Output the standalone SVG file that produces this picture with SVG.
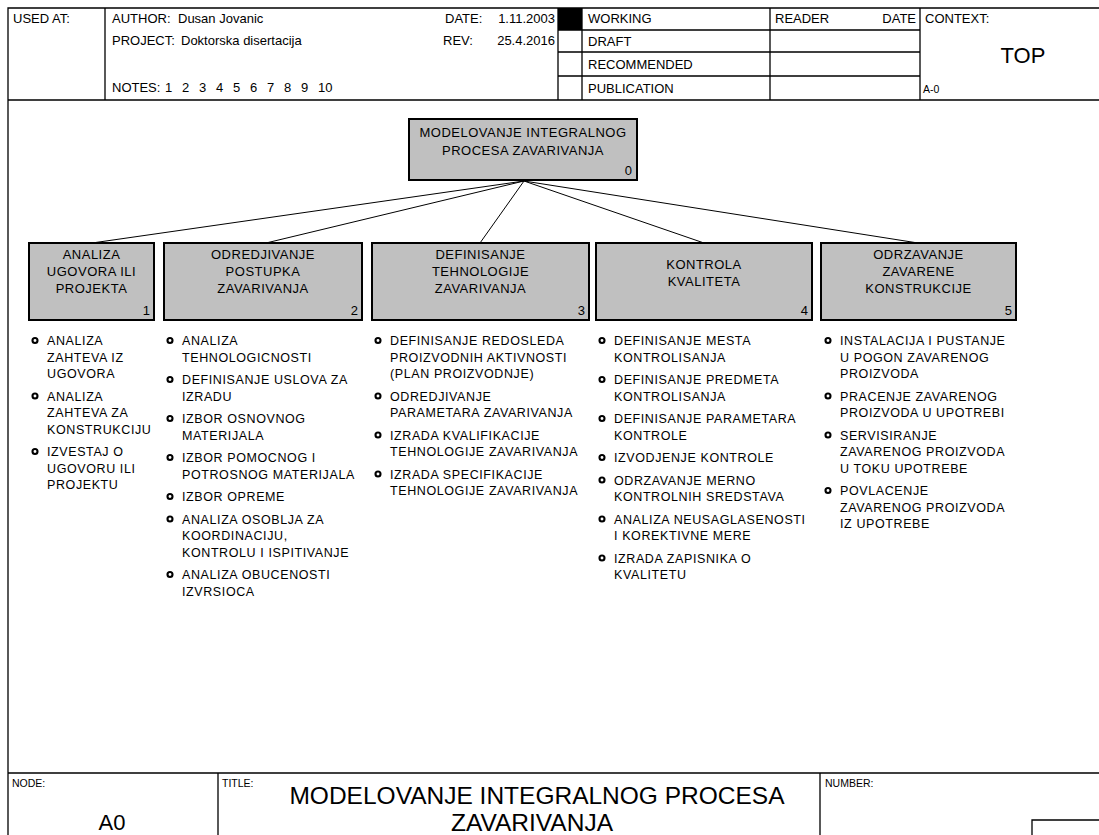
<svg xmlns="http://www.w3.org/2000/svg" width="1099" height="835" viewBox="0 0 1099 835">
<style>
text{font-family:"Liberation Sans",Arial,sans-serif;fill:#000}
.h{font-size:13px}
.nt{font-size:13px;letter-spacing:0.5px;text-anchor:middle}
.num{font-size:13px;text-anchor:end}
.bt{font-size:12.5px;letter-spacing:0.6px}
.fr{stroke:#000;stroke-width:1.3;fill:none}
.box{fill:#c0c0c0;stroke:#000;stroke-width:2}
.b{fill:#fff;stroke:#000;stroke-width:2.1}
.cn{stroke:#000;stroke-width:1;fill:none}
.sm{font-size:10.5px}
</style>
<rect width="1099" height="835" fill="#fff"/>
<g id="frame">
<path class="fr" d="M8 835V8H1099M8 100H1099M105 8V100M558 8V100M582 8V100M770 8V100M920 8V100M558 30H920M558 52H920M558 76H920M8 773H1099M218 773V835M820 773V835M1032 835V820H1099"/>
<rect x="558" y="8" width="24" height="22" fill="#000"/>
<text class="h" x="13" y="23">USED AT:</text>
<text class="h" x="112" y="23">AUTHOR:</text>
<text class="h" x="178" y="23">Dusan Jovanic</text>
<text class="h" x="112" y="45">PROJECT:</text>
<text class="h" x="181" y="45">Doktorska disertacija</text>
<text class="h" x="112" y="92">NOTES:<tspan x="165">1</tspan><tspan x="182">2</tspan><tspan x="199">3</tspan><tspan x="216">4</tspan><tspan x="233">5</tspan><tspan x="250">6</tspan><tspan x="267">7</tspan><tspan x="284">8</tspan><tspan x="301">9</tspan><tspan x="318">10</tspan></text>
<text class="h" x="445" y="23">DATE:</text>
<text class="h" x="555" y="23" text-anchor="end">1.11.2003</text>
<text class="h" x="443" y="45">REV:</text>
<text class="h" x="555" y="45" text-anchor="end">25.4.2016</text>
<text class="h" x="588" y="23">WORKING</text>
<text class="h" x="588" y="46">DRAFT</text>
<text class="h" x="588" y="69">RECOMMENDED</text>
<text class="h" x="588" y="93">PUBLICATION</text>
<text class="h" x="775" y="23">READER</text>
<text class="h" x="916" y="23" text-anchor="end">DATE</text>
<text class="h" x="925" y="23">CONTEXT:</text>
<text x="1023" y="63" font-size="22" text-anchor="middle">TOP</text>
<text class="sm" x="923" y="93">A-0</text>
<text class="sm" x="12" y="787">NODE:</text>
<text class="sm" x="222" y="787">TITLE:</text>
<text class="sm" x="825" y="787">NUMBER:</text>
<text x="112" y="830" font-size="22" text-anchor="middle">A0</text>
<text x="537" y="804" font-size="24.5" text-anchor="middle">MODELOVANJE INTEGRALNOG PROCESA</text>
<text x="532" y="831" font-size="24.5" text-anchor="middle">ZAVARIVANJA</text>
</g>
<g id="connectors">
<path class="cn" d="M524 181L92 243M524 181L266 243M524 181L480 243M524 181L704 243M524 181L918 243"/>
</g>
<g id="node0">
<rect class="box" x="409" y="119" width="228" height="61"/>
<text class="nt" x="523" y="137">MODELOVANJE INTEGRALNOG</text>
<text class="nt" x="523" y="155">PROCESA ZAVARIVANJA</text>
<text class="num" x="632" y="175">0</text>
</g>
<g id="node1">
<rect class="box" x="29" y="243" width="125" height="77"/>
<text class="nt" x="91.5" y="259">ANALIZA</text>
<text class="nt" x="91.5" y="276">UGOVORA ILI</text>
<text class="nt" x="91.5" y="293">PROJEKTA</text>
<text class="num" x="150" y="315">1</text>
<circle class="b" cx="35" cy="340.5" r="2.5"/>
<circle class="b" cx="35" cy="396" r="2.5"/>
<circle class="b" cx="35" cy="451.5" r="2.5"/>
<text class="bt" x="47" y="345">ANALIZA<tspan x="47" dy="16.5">ZAHTEVA IZ</tspan><tspan x="47" dy="16.5">UGOVORA</tspan></text>
<text class="bt" x="47" y="400.5">ANALIZA<tspan x="47" dy="16.5">ZAHTEVA ZA</tspan><tspan x="47" dy="16.5">KONSTRUKCIJU</tspan></text>
<text class="bt" x="47" y="456">IZVESTAJ O<tspan x="47" dy="16.5">UGOVORU ILI</tspan><tspan x="47" dy="16.5">PROJEKTU</tspan></text>
</g>
<g id="node2">
<rect class="box" x="164" y="243" width="198" height="77"/>
<text class="nt" x="263" y="259">ODREDJIVANJE</text>
<text class="nt" x="263" y="276">POSTUPKA</text>
<text class="nt" x="263" y="293">ZAVARIVANJA</text>
<text class="num" x="358" y="315">2</text>
<circle class="b" cx="170" cy="340.5" r="2.5"/>
<circle class="b" cx="170" cy="379.5" r="2.5"/>
<circle class="b" cx="170" cy="418.5" r="2.5"/>
<circle class="b" cx="170" cy="457.5" r="2.5"/>
<circle class="b" cx="170" cy="496.5" r="2.5"/>
<circle class="b" cx="170" cy="519" r="2.5"/>
<circle class="b" cx="170" cy="574.5" r="2.5"/>
<text class="bt" x="182" y="345">ANALIZA<tspan x="182" dy="16.5">TEHNOLOGICNOSTI</tspan></text>
<text class="bt" x="182" y="384">DEFINISANJE USLOVA ZA<tspan x="182" dy="16.5">IZRADU</tspan></text>
<text class="bt" x="182" y="423">IZBOR OSNOVNOG<tspan x="182" dy="16.5">MATERIJALA</tspan></text>
<text class="bt" x="182" y="462">IZBOR POMOCNOG I<tspan x="182" dy="16.5">POTROSNOG MATERIJALA</tspan></text>
<text class="bt" x="182" y="501">IZBOR OPREME</text>
<text class="bt" x="182" y="523.5">ANALIZA OSOBLJA ZA<tspan x="182" dy="16.5">KOORDINACIJU,</tspan><tspan x="182" dy="16.5">KONTROLU I ISPITIVANJE</tspan></text>
<text class="bt" x="182" y="579">ANALIZA OBUCENOSTI<tspan x="182" dy="16.5">IZVRSIOCA</tspan></text>
</g>
<g id="node3">
<rect class="box" x="372" y="243" width="217" height="77"/>
<text class="nt" x="480.5" y="259">DEFINISANJE</text>
<text class="nt" x="480.5" y="276">TEHNOLOGIJE</text>
<text class="nt" x="480.5" y="293">ZAVARIVANJA</text>
<text class="num" x="585" y="315">3</text>
<circle class="b" cx="378" cy="340.5" r="2.5"/>
<circle class="b" cx="378" cy="396" r="2.5"/>
<circle class="b" cx="378" cy="435" r="2.5"/>
<circle class="b" cx="378" cy="474" r="2.5"/>
<text class="bt" x="390" y="345">DEFINISANJE REDOSLEDA<tspan x="390" dy="16.5">PROIZVODNIH AKTIVNOSTI</tspan><tspan x="390" dy="16.5">(PLAN PROIZVODNJE)</tspan></text>
<text class="bt" x="390" y="400.5">ODREDJIVANJE<tspan x="390" dy="16.5">PARAMETARA ZAVARIVANJA</tspan></text>
<text class="bt" x="390" y="439.5">IZRADA KVALIFIKACIJE<tspan x="390" dy="16.5">TEHNOLOGIJE ZAVARIVANJA</tspan></text>
<text class="bt" x="390" y="478.5">IZRADA SPECIFIKACIJE<tspan x="390" dy="16.5">TEHNOLOGIJE ZAVARIVANJA</tspan></text>
</g>
<g id="node4">
<rect class="box" x="596" y="243" width="216" height="77"/>
<text class="nt" x="704" y="269">KONTROLA</text>
<text class="nt" x="704" y="286">KVALITETA</text>
<text class="num" x="808" y="315">4</text>
<circle class="b" cx="602" cy="340.5" r="2.5"/>
<circle class="b" cx="602" cy="379.5" r="2.5"/>
<circle class="b" cx="602" cy="418.5" r="2.5"/>
<circle class="b" cx="602" cy="457.5" r="2.5"/>
<circle class="b" cx="602" cy="480" r="2.5"/>
<circle class="b" cx="602" cy="519" r="2.5"/>
<circle class="b" cx="602" cy="558" r="2.5"/>
<text class="bt" x="614" y="345">DEFINISANJE MESTA<tspan x="614" dy="16.5">KONTROLISANJA</tspan></text>
<text class="bt" x="614" y="384">DEFINISANJE PREDMETA<tspan x="614" dy="16.5">KONTROLISANJA</tspan></text>
<text class="bt" x="614" y="423">DEFINISANJE PARAMETARA<tspan x="614" dy="16.5">KONTROLE</tspan></text>
<text class="bt" x="614" y="462">IZVODJENJE KONTROLE</text>
<text class="bt" x="614" y="484.5">ODRZAVANJE MERNO<tspan x="614" dy="16.5">KONTROLNIH SREDSTAVA</tspan></text>
<text class="bt" x="614" y="523.5">ANALIZA NEUSAGLASENOSTI<tspan x="614" dy="16.5">I KOREKTIVNE MERE</tspan></text>
<text class="bt" x="614" y="562.5">IZRADA ZAPISNIKA O<tspan x="614" dy="16.5">KVALITETU</tspan></text>
</g>
<g id="node5">
<rect class="box" x="821" y="243" width="195" height="77"/>
<text class="nt" x="918.5" y="259">ODRZAVANJE</text>
<text class="nt" x="918.5" y="276">ZAVARENE</text>
<text class="nt" x="918.5" y="293">KONSTRUKCIJE</text>
<text class="num" x="1012" y="315">5</text>
<circle class="b" cx="828" cy="340.5" r="2.5"/>
<circle class="b" cx="828" cy="396" r="2.5"/>
<circle class="b" cx="828" cy="435" r="2.5"/>
<circle class="b" cx="828" cy="490.5" r="2.5"/>
<text class="bt" x="840" y="345">INSTALACIJA I PUSTANJE<tspan x="840" dy="16.5">U POGON ZAVARENOG</tspan><tspan x="840" dy="16.5">PROIZVODA</tspan></text>
<text class="bt" x="840" y="400.5">PRACENJE ZAVARENOG<tspan x="840" dy="16.5">PROIZVODA U UPOTREBI</tspan></text>
<text class="bt" x="840" y="439.5">SERVISIRANJE<tspan x="840" dy="16.5">ZAVARENOG PROIZVODA</tspan><tspan x="840" dy="16.5">U TOKU UPOTREBE</tspan></text>
<text class="bt" x="840" y="495">POVLACENJE<tspan x="840" dy="16.5">ZAVARENOG PROIZVODA</tspan><tspan x="840" dy="16.5">IZ UPOTREBE</tspan></text>
</g>
</svg>
